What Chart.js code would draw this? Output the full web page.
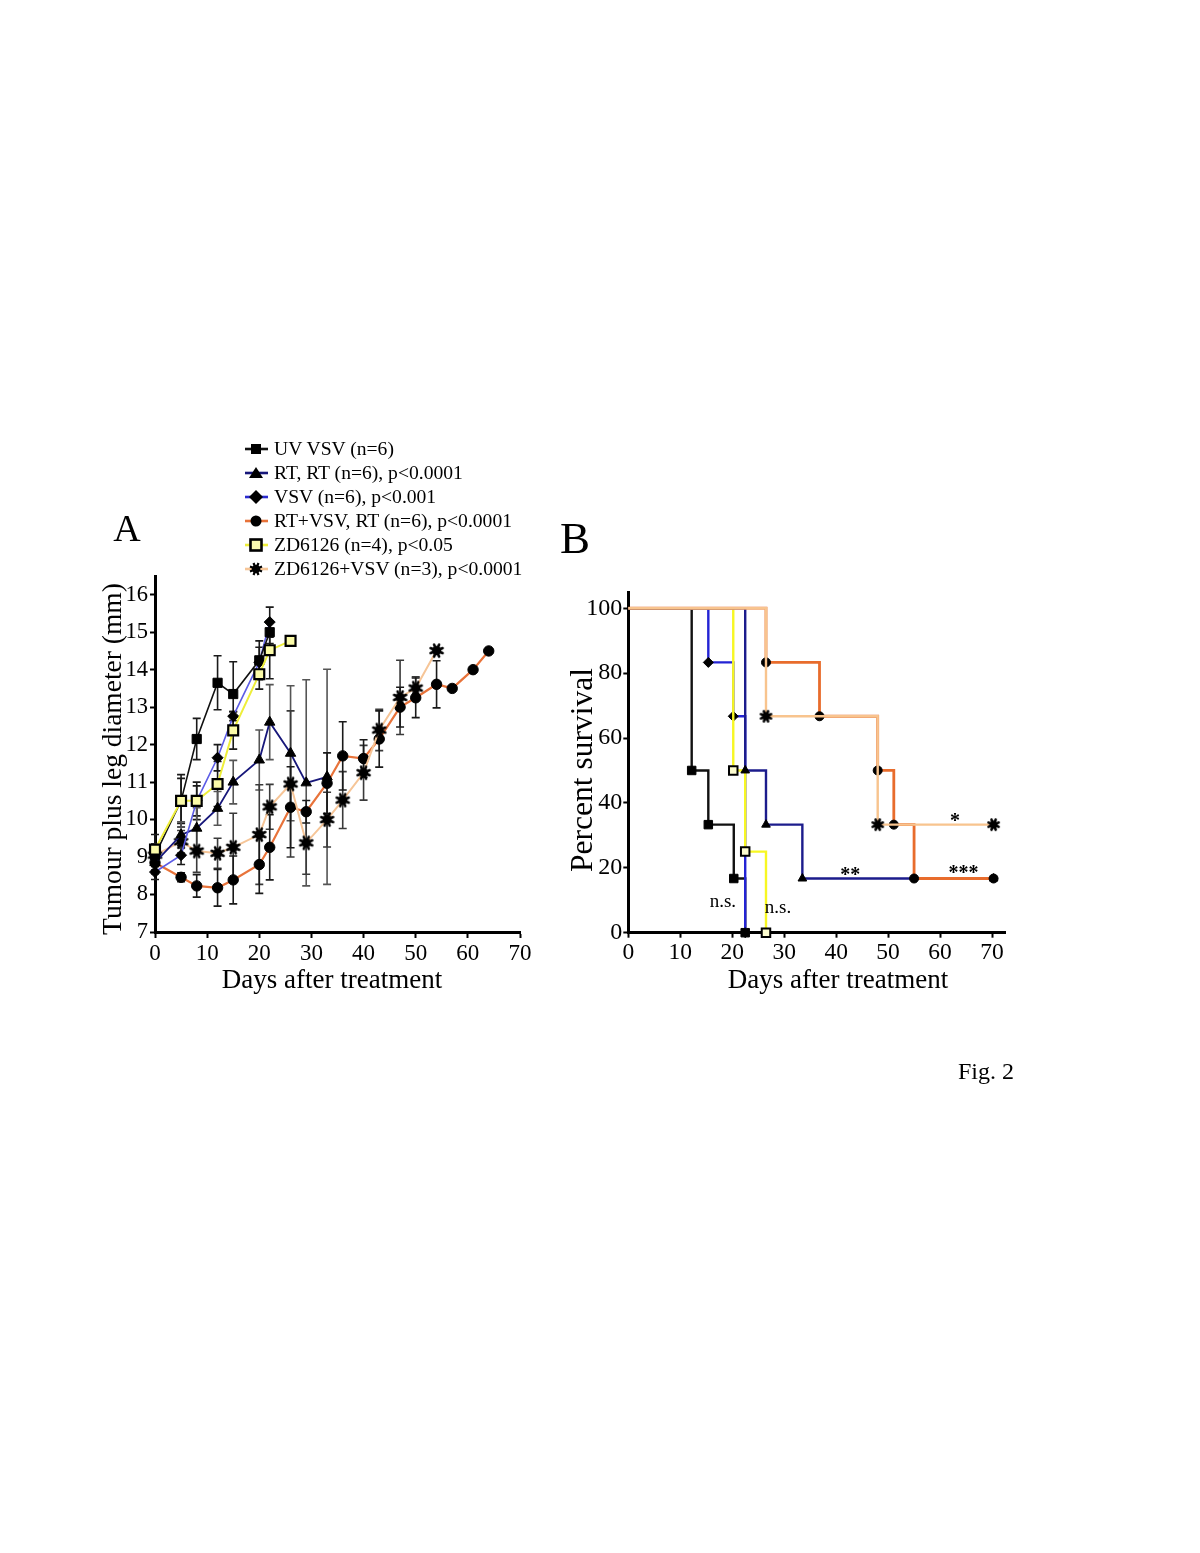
<!DOCTYPE html>
<html>
<head>
<meta charset="utf-8">
<script src="https://cdn.jsdelivr.net/npm/chart.js@4.4.1/dist/chart.umd.min.js"></script>
<style>
  html, body { margin:0; padding:0; background:#fff; }
  body { width:1200px; height:1553px; position:relative; overflow:hidden; font-family:"Liberation Serif","Times New Roman",serif; }
  canvas { position:absolute; }
  #cA { left:40px; top:560px; }
  #cB { left:540px; top:570px; }
  #overlay { position:absolute; left:0; top:0; }
</style>
</head>
<body>
<canvas id="cA" width="510" height="440" style="width:510px;height:440px"></canvas>
<canvas id="cB" width="480" height="430" style="width:480px;height:430px"></canvas>
<svg id="overlay" width="1200" height="1553" font-family="Liberation Serif, Times New Roman, serif">
  <text x="127" y="541" font-size="38" text-anchor="middle">A</text>
  <text x="575" y="553" font-size="45" text-anchor="middle">B</text>
  <g id="legend"></g>
  <text x="332" y="988" font-size="27" text-anchor="middle">Days after treatment</text>
  <text x="838" y="988" font-size="27" text-anchor="middle">Days after treatment</text>
  <text transform="translate(121,759) rotate(-90)" font-size="27.5" text-anchor="middle">Tumour plus leg diameter (mm)</text>
  <text transform="translate(592,770) rotate(-90)" font-size="31.5" text-anchor="middle">Percent survival</text>
  <text x="958" y="1079" font-size="24">Fig. 2</text>
</svg>
<script>
// ---------------- DATA ----------------
// Panel A: tumour plus leg diameter (mm) vs days after treatment
const seriesNames = ["UV VSV (n=6)", "RT, RT (n=6), p<0.0001", "VSV (n=6), p<0.001",
  "RT+VSV, RT (n=6), p<0.0001", "ZD6126 (n=4), p<0.05", "ZD6126+VSV (n=3), p<0.0001"];

const daysUV = [0, 5, 8, 12, 15, 20, 22];
const diamUV = [9.05, 10.5, 12.15, 13.65, 13.35, 14.25, 15.0];
const errUV  = [0.3, 0.7, 0.55, 0.72, 0.86, 0.52, 0.3];

const daysRT = [0, 5, 8, 12, 15, 20, 22, 26, 29, 33];
const diamRT = [8.85, 9.59, 9.77, 10.3, 11.0, 11.59, 12.6, 11.77, 10.98, 11.14];
const errRT  = [0.3, 0.35, 0.55, 0.45, 0.58, 0.8, 1.0, 1.8, 2.75, 2.87];

const daysVSV = [0, 5, 8, 12, 15, 20, 22];
const diamVSV = [8.6, 9.05, 10.5, 11.65, 12.76, 14.2, 15.27];
const errVSV  = [0.2, 0.25, 0.5, 0.35, 0.12, 0.4, 0.4];

const daysRTVSV = [0, 5, 8, 12, 15, 20, 22, 26, 29, 33, 36, 40, 43, 47, 50, 54, 57, 61, 64];
const diamRTVSV = [8.85, 8.46, 8.23, 8.18, 8.39, 8.8, 9.26, 10.33, 10.21, 10.97, 11.7, 11.63, 12.15, 13.0, 13.25, 13.61, 13.5, 14.0, 14.5];
const errRTVSV  = [0.2, 0.12, 0.3, 0.49, 0.64, 0.77, 0.87, 1.08, 0.3, 0.81, 0.91, 0.5, 0.75, 0.53, 0.53, 0.63, 0, 0, 0];

const daysZD = [0, 5, 8, 12, 15, 20, 22, 26];
const diamZD = [9.2, 10.5, 10.5, 10.95, 12.38, 13.88, 14.52, 14.77];
const errZD  = [0.4, 0.6, 0.4, 0.6, 0.5, 0.4, 0.76, 0];

const daysZDVSV = [0, 5, 8, 12, 15, 20, 22, 26, 29, 33, 36, 40, 43, 47, 50, 54];
const diamZDVSV = [9.05, 9.41, 9.16, 9.1, 9.26, 9.6, 10.34, 10.95, 9.38, 10.0, 10.52, 11.25, 12.39, 13.26, 13.51, 14.51];
const errZDVSV  = [0.3, 0.3, 0.57, 0.4, 0.91, 1.33, 0.6, 1.95, 0.84, 0.73, 0.76, 0.73, 0.55, 0.99, 0.3, 0];

const tickDaysA = [0, 10, 20, 30, 40, 50, 60, 70];
const tickMmA = [7, 8, 9, 10, 11, 12, 13, 14, 15, 16];

// Panel B: Kaplan-Meier percent survival
const survDaysUV = [0, 12.2, 15.4, 20.3, 22.5];
const survUV     = [100, 50, 33.3, 16.7, 0];
const survDaysRT = [0, 22.5, 26.5, 33.5, 70.3];
const survRT     = [100, 50, 33.3, 16.7, 16.7];
const survDaysVSV = [0, 15.4, 20.2, 22.5];
const survVSV     = [100, 83.3, 66.7, 0];
const survDaysZD = [0, 20.2, 22.5, 26.5];
const survZD     = [100, 50, 25, 0];
const survDaysRTVSV = [0, 26.5, 36.8, 48.0, 51.1, 55.0, 70.3];
const survRTVSV     = [100, 83.3, 66.7, 50, 33.3, 16.7, 16.7];
const survDaysZDVSV = [0, 26.5, 48.0, 70.3];
const survZDVSV     = [100, 66.7, 33.3, 33.3];

const tickDaysB = [0, 10, 20, 30, 40, 50, 60, 70];
const tickPctB = [0, 20, 40, 60, 80, 100];

// significance labels in panel B (day, percent)
const sigLabels = ["n.s.", "n.s.", "**", "***", "*"];
const sigDays   = [18.2, 28.8, 42.7, 64.5, 62.9];
const sigPct    = [8.0, 6.0, 16.0, 16.6, 32.7];

// ---------------- STYLE ----------------
const FONT = '"Liberation Serif", "Times New Roman", serif';
Chart.defaults.font.family = FONT;
Chart.defaults.color = '#000';

const colA = { uv:'#111111', rt:'#17177a', vsv:'#5c5ce6', rtvsv:'#e8733a', zd:'#eeee3a', zdvsv:'#f6c597' };
const colB = { uv:'#111111', rt:'#1c1c8c', vsv:'#2323d4', rtvsv:'#e86c2c', zd:'#f7f722', zdvsv:'#f8c48e' };

function makeStar(r) {
  const s = Math.ceil(r * 2 + 4);
  const c = document.createElement('canvas');
  c.width = s; c.height = s;
  const g = c.getContext('2d');
  const m = s / 2;
  g.fillStyle = '#000'; g.strokeStyle = '#000'; g.lineWidth = 2.6; g.lineCap = 'round';
  g.beginPath(); g.arc(m, m, r * 0.72, 0, Math.PI * 2); g.fill();
  for (let k = 0; k < 8; k++) {
    const a = k * Math.PI / 4 + Math.PI / 8;
    g.beginPath(); g.moveTo(m, m); g.lineTo(m + r * Math.cos(a), m + r * Math.sin(a)); g.stroke();
  }
  return c;
}
const starA = makeStar(6.5);
const starB = makeStar(5.5);

function pts(days, vals) { return days.map((d, i) => ({ x: d, y: vals[i] })); }

function makeScale(o) {
  return {
    type: 'linear', min: o.min, max: o.max, position: o.position,
    grid: { display: true, drawOnChartArea: false, drawTicks: true, tickLength: o.tickLen, tickWidth: 2, tickColor: '#000' },
    border: { display: true, color: '#000', width: 3 },
    ticks: { font: { size: o.font, family: FONT }, color: '#000', padding: o.pad, maxRotation: 0, autoSkip: false },
    afterBuildTicks: s => { s.ticks = o.ticks.map(v => ({ value: v })); },
    afterFit: s => { if (o.position === 'left') s.width = o.fit; else s.height = o.fit; }
  };
}

const errorBars = {
  id: 'errorBars',
  beforeDatasetsDraw(chart) {
    const ctx = chart.ctx, xs = chart.scales.x, ys = chart.scales.y;
    chart.data.datasets.forEach(ds => {
      if (!ds.errors) return;
      ctx.save();
      ctx.strokeStyle = ds.errorColor || '#111';
      ctx.lineWidth = 1.6;
      ds.data.forEach((p, j) => {
        const e = ds.errors[j];
        if (!e) return;
        const x = xs.getPixelForValue(p.x);
        const y1 = ys.getPixelForValue(p.y - e), y2 = ys.getPixelForValue(p.y + e);
        ctx.beginPath();
        ctx.moveTo(x, y1); ctx.lineTo(x, y2);
        ctx.moveTo(x - 4, y1); ctx.lineTo(x + 4, y1);
        ctx.moveTo(x - 4, y2); ctx.lineTo(x + 4, y2);
        ctx.stroke();
      });
      ctx.restore();
    });
  }
};

const sigText = {
  id: 'sigText',
  afterDatasetsDraw(chart) {
    const ctx = chart.ctx, xs = chart.scales.x, ys = chart.scales.y;
    ctx.save();
    ctx.fillStyle = '#000';
    ctx.textAlign = 'center';
    ctx.textBaseline = 'alphabetic';
    sigLabels.forEach((t, i) => {
      ctx.font = (t === 'n.s.' ? '19px ' : 'bold 20px ') + FONT;
      ctx.fillText(t, xs.getPixelForValue(sigDays[i]), ys.getPixelForValue(sigPct[i]));
    });
    ctx.restore();
  }
};

function lineA(label, days, vals, errs, color, style, radius, opts) {
  return Object.assign({
    label, data: pts(days, vals), errors: errs, errorColor: '#1a1a1a',
    showLine: true, borderColor: color, borderWidth: 2, tension: 0,
    pointStyle: style, pointRadius: radius, pointBackgroundColor: '#000', pointBorderColor: '#000',
    pointBorderWidth: 1, clip: false
  }, opts || {});
}

// ---------------- CHART A ----------------
new Chart(document.getElementById('cA'), {
  type: 'scatter',
  data: {
    datasets: [
      lineA(seriesNames[4], daysZD, diamZD, errZD, colA.zd, 'rect', 7, { pointBackgroundColor: '#fbfba8', pointBorderWidth: 2.2 }),
      lineA(seriesNames[0], daysUV, diamUV, errUV, colA.uv, 'rect', 6.5, { borderWidth: 1.6 }),
      lineA(seriesNames[2], daysVSV, diamVSV, errVSV, colA.vsv, 'rectRot', 5.5, { borderWidth: 1.6 }),
      lineA(seriesNames[1], daysRT, diamRT, errRT, colA.rt, 'triangle', 6, { borderWidth: 1.8, errorColor: '#555' }),
      lineA(seriesNames[5], daysZDVSV, diamZDVSV, errZDVSV, colA.zdvsv, starA, 6.5, { errorColor: '#3a3a3a' }),
      lineA(seriesNames[3], daysRTVSV, diamRTVSV, errRTVSV, colA.rtvsv, 'circle', 5.2, { borderWidth: 2.2 })
    ]
  },
  options: {
    responsive: false, animation: false, events: [],
    layout: { padding: { top: 16, right: 30, bottom: 0, left: 0 } },
    plugins: { legend: { display: false }, tooltip: { enabled: false } },
    scales: {
      x: makeScale({ min: 0, max: 70, position: 'bottom', ticks: tickDaysA, font: 23, pad: 2, tickLen: 6, fit: 68 }),
      y: makeScale({ min: 7, max: 16.5, position: 'left', ticks: tickMmA, font: 22.5, pad: 2, tickLen: 5, fit: 115 })
    }
  },
  plugins: [errorBars]
});

// ---------------- CHART B ----------------
function lineB(label, days, vals, color, style, radius, opts) {
  return Object.assign({
    label, data: pts(days, vals),
    showLine: true, stepped: 'before', borderColor: color, borderWidth: 2.4,
    pointStyle: style, pointRadius: days.map((d, i) => i === 0 ? 0 : radius),
    pointBackgroundColor: '#000', pointBorderColor: '#000', pointBorderWidth: 1, clip: false
  }, opts || {});
}

new Chart(document.getElementById('cB'), {
  type: 'scatter',
  data: {
    datasets: [
      lineB(seriesNames[5], survDaysZDVSV, survZDVSV, colB.zdvsv, starB, 5.5),
      lineB(seriesNames[3], survDaysRTVSV, survRTVSV, colB.rtvsv, 'circle', 4.5, { borderWidth: 2.8 }),
      lineB(seriesNames[1], survDaysRT, survRT, colB.rt, 'triangle', 5),
      lineB(seriesNames[4], survDaysZD, survZD, colB.zd, 'rect', 6, { pointBackgroundColor: '#fdfdd0', pointBorderWidth: 2 }),
      lineB(seriesNames[2], survDaysVSV, survVSV, colB.vsv, 'rectRot', 5),
      lineB(seriesNames[0], survDaysUV, survUV, colB.uv, 'rect', 6)
    ]
  },
  options: {
    responsive: false, animation: false, events: [],
    layout: { padding: { top: 22, right: 15, bottom: 0, left: 0 } },
    plugins: { legend: { display: false }, tooltip: { enabled: false } },
    scales: {
      x: makeScale({ min: 0, max: 72.5, position: 'bottom', ticks: tickDaysB, font: 23.5, pad: 1, tickLen: 5, fit: 67.3 }),
      y: makeScale({ min: 0, max: 105, position: 'left', ticks: tickPctB, font: 24, pad: 1, tickLen: 5, fit: 88.3 })
    }
  },
  plugins: [sigText]
});

// ---------------- LEGEND (SVG, real text) ----------------
(function () {
  const NS = 'http://www.w3.org/2000/svg';
  const g = document.getElementById('legend');
  const lineCols = [colA.uv, colA.rt, '#2b2bd0', colA.rtvsv, colA.zd, colA.zdvsv];
  const shapes = ['square', 'triangle', 'diamond', 'circle', 'osquare', 'star'];
  function el(name, attrs) { const e = document.createElementNS(NS, name); for (const k in attrs) e.setAttribute(k, attrs[k]); g.appendChild(e); return e; }
  seriesNames.forEach((name, i) => {
    const base = 455 + 24 * i, cy = base - 6, cx = 256;
    el('line', { x1: 245, y1: cy, x2: 268, y2: cy, stroke: lineCols[i], 'stroke-width': 2.6 });
    const s = shapes[i];
    if (s === 'square') el('rect', { x: cx - 5, y: cy - 5, width: 10, height: 10, fill: '#000' });
    if (s === 'triangle') el('polygon', { points: `${cx},${cy - 6} ${cx - 7},${cy + 5} ${cx + 7},${cy + 5}`, fill: '#000' });
    if (s === 'diamond') el('polygon', { points: `${cx},${cy - 7} ${cx + 7},${cy} ${cx},${cy + 7} ${cx - 7},${cy}`, fill: '#000' });
    if (s === 'circle') el('circle', { cx, cy, r: 5.5, fill: '#000' });
    if (s === 'osquare') el('rect', { x: cx - 5.5, y: cy - 5.5, width: 11, height: 11, fill: '#fbfbb0', stroke: '#000', 'stroke-width': 2.6 });
    if (s === 'star') {
      el('circle', { cx, cy, r: 4.2, fill: '#000' });
      for (let k = 0; k < 4; k++) {
        const a = k * Math.PI / 4 + Math.PI / 8, r = 6.5;
        el('line', { x1: cx - r * Math.cos(a), y1: cy - r * Math.sin(a), x2: cx + r * Math.cos(a), y2: cy + r * Math.sin(a), stroke: '#000', 'stroke-width': 2.2 });
      }
    }
    const t = el('text', { x: 274, y: base, 'font-size': 19.6 });
    t.textContent = name;
  });
})();
</script>
</body>
</html>
